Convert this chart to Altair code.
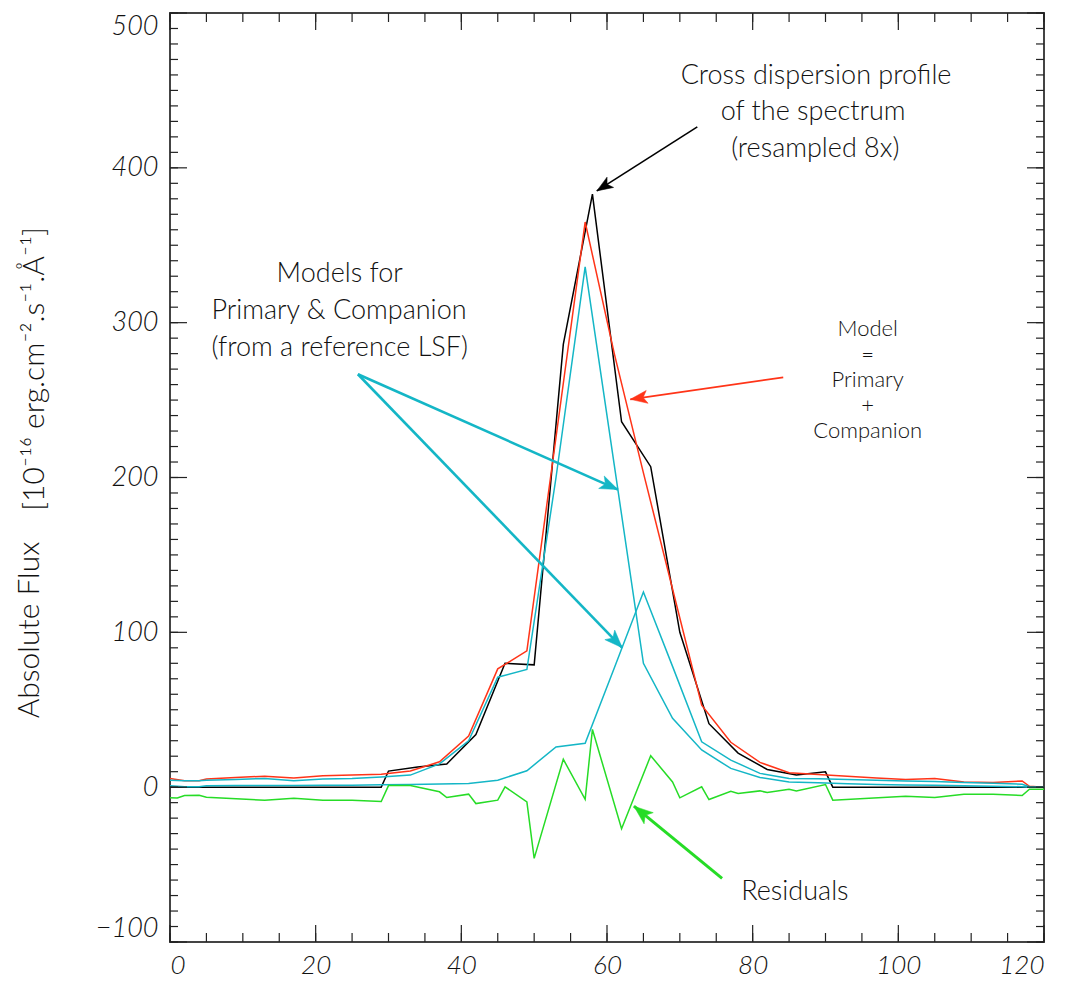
import math
import altair as alt
import pandas as pd

# ---------------- data ----------------
x_data = [0, 29, 30, 34, 38, 42, 46, 50, 54, 58, 62, 66, 70, 74, 78, 82, 86, 90, 91, 118, 120]
flux_data = [0, 0, 10.4, 13, 15, 34, 80, 79, 286, 383, 236, 207, 100, 41, 22, 11.4, 7.8, 9.9, 0, 0, 0]

x_model = [0, 2, 4, 5, 9, 13, 17, 21, 25, 29, 33, 37, 41, 45, 49, 53, 57, 61, 65, 69,
           73, 77, 81, 85, 89, 93, 97, 101, 105, 109, 113, 117, 118, 120]
model_total = [5.6, 4.1, 4.1, 5.2, 6.2, 7.1, 6.0, 7.3, 7.8, 8.4, 10.4, 16.4, 33, 76.4, 88, 226,
               365, 280, 203, 128, 53, 29, 16, 9.3, 8.2, 7.0, 6.0, 5.0, 5.6, 3.4, 3.0, 4.0, 0.6, 0]
model_primary = [4.5, 4.1, 4.1, 4.5, 5.0, 5.6, 4.1, 5.2, 5.6, 6.5, 7.8, 15, 30, 71, 76, 200,
                 336, 208, 80, 44.5, 24, 12.1, 6.3, 3.4, 2.8, 2.2, 1.8, 1.4, 1.2, 0.9, 0.6, 0.3, 0, 0]
model_companion = [0.9, 0.3, 0.3, 0.9, 1.0, 1.1, 1.1, 1.2, 1.3, 1.5, 1.8, 2.0, 2.4, 4.5, 10.6, 26,
                   28.3, 77, 126, 78, 29.3, 17.5, 8.9, 5.6, 5.4, 5.0, 4.5, 4.0, 3.6, 3.0, 2.5, 1.9, 0.3, 0]

x_resid = [0, 1, 2, 4, 5, 13, 17, 21, 25, 29, 30, 33, 37, 38, 41, 42, 45, 46, 49, 50, 54, 57,
           58, 62, 66, 69, 70, 73, 74, 77, 78, 81, 82, 85, 86, 90, 91, 101, 105, 109, 113, 117, 118, 120]
residuals = [-6.8, -7.0, -5.4, -5.2, -6.5, -8.4, -7.1, -8.4, -8.4, -9.3, 1.0, 1.1, -3.0, -6.7,
             -4.5, -10.6, -8.4, 0.2, -9.5, -46, 18, -7.8, 37.3, -26.8, 20.3, 3.4, -6.9, 0.2, -8.0,
             -2.6, -4.1, -2.4, -3.5, -1.3, -2.4, 1.7, -8.4, -5.8, -6.7, -4.5, -4.5, -5.4, -1.3, -1.3]

x_major_ticks = [0, 20, 40, 60, 80, 100, 120]
x_minor_ticks = list(range(0, 121, 5))
y_major_ticks = [-100, 0, 100, 200, 300, 400, 500]
y_minor_ticks = list(range(-100, 501, 10))

# annotations (data coordinates)
note_lines = ["Cross dispersion profile", "of the spectrum", "(resampled 8x)",
              "Models for", "Primary & Companion", "(from a reference LSF)", "Residuals"]
note_x = [88.7, 88.3, 88.6, 23.3, 23.2, 23.3, 85.8]
note_y = [459.5, 436.2, 412.3, 331.4, 307.4, 283.5, -68.0]

model_note_lines = ["Model", "=", "Primary", "+", "Companion"]
model_note_x = [95.8, 95.8, 95.8, 95.8, 95.8]
model_note_y = [295.8, 279.0, 262.8, 246.0, 229.8]

arrow_x0 = [72.4, 25.8, 25.8, 84.2, 75.8]
arrow_y0 = [426.5, 266.7, 266.7, 264.7, -58.9]
arrow_x1 = [58.6, 61.5, 62.1, 63.2, 63.7]
arrow_y1 = [385.1, 192.2, 90.0, 250.5, -12.3]

# ---------------- styling ----------------
W, H = 874, 929
FONT = "Lato"
BLACK, RED, CYAN, GREEN = "#000000", "#ff3418", "#14b6c6", "#26dc26"
arrow_colors = [BLACK, CYAN, CYAN, RED, GREEN]
arrow_widths = [1.6, 2.6, 2.6, 1.8, 3.0]
arrow_len = [16, 18, 18, 17, 19]

xscale = alt.Scale(domain=[0, 120], nice=False, zero=False)
yscale = alt.Scale(domain=[-100, 500], nice=False, zero=False)
xaxis = alt.Axis(values=x_major_ticks, ticks=False, tickSize=0, domain=False, grid=False,
                 labelFontSize=26, labelFontStyle="italic", labelFont=FONT, labelFontWeight=300,
                 labelPadding=10, labelColor="#111", title=None)
yaxis = alt.Axis(values=y_major_ticks, ticks=False, tickSize=0, domain=False, grid=False,
                 labelFontSize=27, labelFontStyle="italic", labelFont=FONT, labelFontWeight=300,
                 labelPadding=12, labelColor="#111", labelFlush=True, title=None)


def X(f="x"):
    return alt.X(f, type="quantitative", scale=xscale, axis=xaxis)


def Y(f="v"):
    return alt.Y(f, type="quantitative", scale=yscale, axis=yaxis)


def line(xs, vs, color, width=1.5):
    df = pd.DataFrame({"x": xs, "v": vs})
    return alt.Chart(df).mark_line(color=color, strokeWidth=width, interpolate="linear").encode(
        x=X(), y=Y())


layers = []
layers.append(line(x_data, flux_data, BLACK))
layers.append(line(x_model, model_total, RED))
layers.append(line(x_model, model_primary, CYAN))
layers.append(line(x_model, model_companion, CYAN))
layers.append(line(x_resid, residuals, GREEN))

# inward ticks on all four sides
tick_color = "#222"
for vals, ln in [(x_minor_ticks, 9), (x_major_ticks, 17)]:
    df = pd.DataFrame({"x": vals})
    layers.append(alt.Chart(df).mark_rule(color=tick_color, strokeWidth=1.2).encode(
        x=X(), y=alt.value(H), y2=alt.value(H - ln)))
    layers.append(alt.Chart(df).mark_rule(color=tick_color, strokeWidth=1.2).encode(
        x=X(), y=alt.value(0), y2=alt.value(ln)))
for vals, ln in [(y_minor_ticks, 8), (y_major_ticks, 17)]:
    df = pd.DataFrame({"v": vals})
    layers.append(alt.Chart(df).mark_rule(color=tick_color, strokeWidth=1.2).encode(
        y=Y(), x=alt.value(0), x2=alt.value(ln)))
    layers.append(alt.Chart(df).mark_rule(color=tick_color, strokeWidth=1.2).encode(
        y=Y(), x=alt.value(W), x2=alt.value(W - ln)))

# arrows
sx, sy = W / 120.0, H / 600.0
head_path = "M0,0L-0.38,1L0,0.76L0.38,1Z"
for i in range(len(arrow_x0)):
    df = pd.DataFrame({"x": [arrow_x0[i]], "v": [arrow_y0[i]],
                       "x2": [arrow_x1[i]], "v2": [arrow_y1[i]]})
    layers.append(alt.Chart(df).mark_rule(color=arrow_colors[i], strokeWidth=arrow_widths[i]).encode(
        x=X(), y=Y(), x2="x2:Q", y2="v2:Q"))
    dx = (arrow_x1[i] - arrow_x0[i]) * sx
    dy = -(arrow_y1[i] - arrow_y0[i]) * sy
    ang = math.degrees(math.atan2(dx, -dy)) % 360
    hd = pd.DataFrame({"x": [arrow_x1[i]], "v": [arrow_y1[i]]})
    layers.append(alt.Chart(hd).mark_point(shape=head_path, filled=True, fill=arrow_colors[i],
                                           stroke=arrow_colors[i], strokeWidth=0.5, opacity=1,
                                           size=4 * arrow_len[i] ** 2, angle=ang).encode(
        x=X(), y=Y()))

# annotation text
notes = pd.DataFrame({"x": note_x, "v": note_y, "t": note_lines})
layers.append(alt.Chart(notes).mark_text(font=FONT, fontSize=27, fontWeight=300, color="#111",
                                         align="center", baseline="middle").encode(
    x=X(), y=Y(), text="t:N"))
model_notes = pd.DataFrame({"x": model_note_x, "v": model_note_y, "t": model_note_lines})
layers.append(alt.Chart(model_notes).mark_text(font=FONT, fontSize=22, fontWeight=300, color="#111",
                                               align="center", baseline="middle").encode(
    x=X(), y=Y(), text="t:N"))

# y-axis title
layers.append(alt.Chart(pd.DataFrame({"t": ["Absolute Flux"]})).mark_text(
    font=FONT, fontSize=30, fontWeight=300, color="#111", angle=270,
    align="center", baseline="middle").encode(
    text="t:N", x=alt.value(-140), y=alt.value(617)))
layers.append(alt.Chart(pd.DataFrame({"t": ["[10\u207b\u00b9\u2076 erg.cm\u207b\u00b2.s\u207b\u00b9.\u00c5\u207b\u00b9]"]})).mark_text(
    font=FONT, fontSize=30, fontWeight=300, color="#111", angle=270,
    align="center", baseline="middle").encode(
    text="t:N", x=alt.value(-135), y=alt.value(356)))

chart = alt.layer(*layers).properties(
    width=W, height=H,
    autosize=alt.AutoSizeParams(type="none"),
    padding={"left": 162, "top": 5, "right": 14, "bottom": 40},
    background="white",
).configure_view(stroke="#444", strokeWidth=2)

chart.save("out.html", embed_options={"renderer": "svg", "actions": False})
